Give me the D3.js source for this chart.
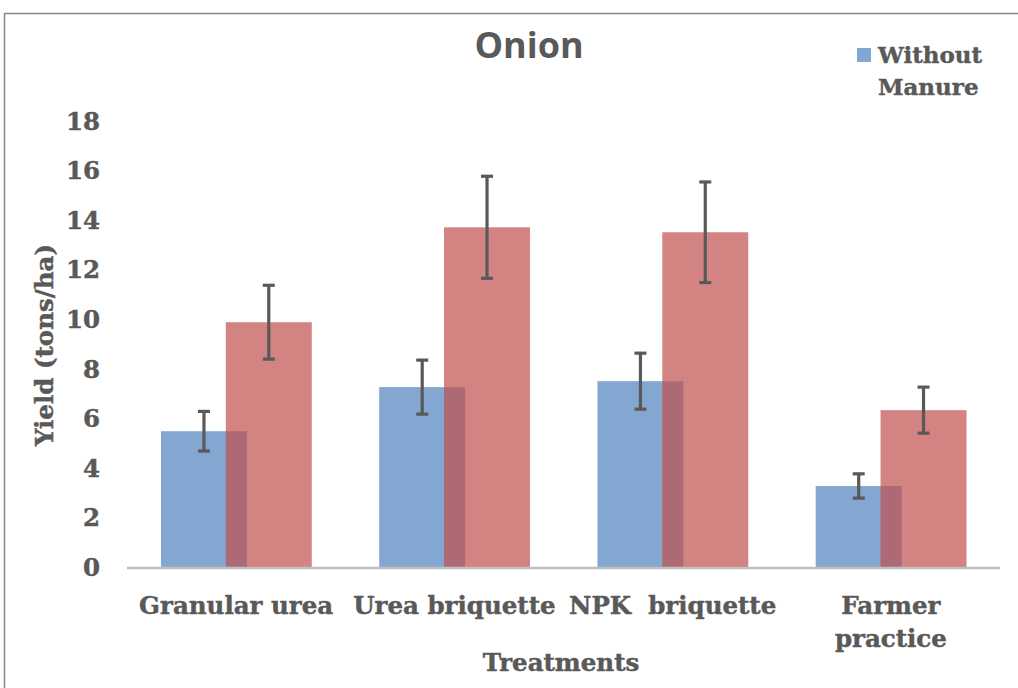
<!DOCTYPE html>
<html><head><meta charset="utf-8">
<script src="https://cdn.jsdelivr.net/npm/d3@7"></script>
<style>html,body{margin:0;padding:0;background:#fff;}svg{display:block;} text{white-space:pre;}</style>
</head><body>
<svg id="chart" width="1018" height="688"></svg>
<script>
const categories = ["Granular urea", "Urea briquette", "NPK  briquette", "Farmer practice"];
const categoryLines = [["Granular urea"], ["Urea briquette"], ["NPK  briquette"], ["Farmer", "practice"]];
const withoutManure = [5.48, 7.26, 7.50, 3.27];
const withoutManureErr = [0.80, 1.09, 1.13, 0.49];
const withManure = [9.88, 13.71, 13.51, 6.33];
const withManureErr = [1.49, 2.06, 2.03, 0.93];
const yTicks = [0, 2, 4, 6, 8, 10, 12, 14, 16, 18];
const seriesNames = ["Without Manure", "With Manure"];

const svg = d3.select("#chart");
const serif = "'DejaVu Serif', serif";
const fs = 24.5;
const textColor = "#595959";

function styleText(sel, size) {
  return sel.attr("font-family", serif).attr("font-weight", "bold").attr("font-size", size || fs)
    .attr("fill", textColor).attr("stroke", textColor).attr("stroke-width", 0.45);
}

// frame
svg.append("path").attr("d", "M4.5,688 L4.5,13.5 L1018,13.5")
  .attr("fill", "none").attr("stroke", "#868686").attr("stroke-width", 1.5);

const x = d3.scaleBand().domain(categories).range([127, 1000]).paddingInner(0).paddingOuter(0);
const y = d3.scaleLinear().domain([0, 18]).range([567, 121]);
const bw = x.bandwidth();
const barW = bw * 0.394;
const blueOff = bw * 0.1556;
const redOff = bw * 0.1556 + bw * 0.297;

const blue = "#4F81BD", red = "#C0504D";

// bars
svg.append("g").selectAll("rect").data(categories).join("rect")
  .attr("x", (d) => x(d) + blueOff).attr("width", barW)
  .attr("y", (d, i) => y(withoutManure[i])).attr("height", (d, i) => y(0) - y(withoutManure[i]))
  .attr("fill", blue).attr("fill-opacity", 0.7);
svg.append("g").selectAll("rect").data(categories).join("rect")
  .attr("x", (d) => x(d) + redOff).attr("width", barW)
  .attr("y", (d, i) => y(withManure[i])).attr("height", (d, i) => y(0) - y(withManure[i]))
  .attr("fill", red).attr("fill-opacity", 0.7);

// baseline axis
svg.append("line").attr("x1", 127).attr("x2", 1000).attr("y1", y(0) + 1).attr("y2", y(0) + 1)
  .attr("stroke", "#bfbfbf").attr("stroke-width", 2.5);

// error bars
function errBars(vals, errs, off) {
  const g = svg.append("g").attr("stroke", "#595959").attr("stroke-width", 3.2).attr("fill", "none");
  categories.forEach((c, i) => {
    const cx = x(c) + off + barW / 2;
    const t = y(vals[i] + errs[i]), b = y(vals[i] - errs[i]);
    g.append("line").attr("x1", cx).attr("x2", cx).attr("y1", t).attr("y2", b);
    g.append("line").attr("x1", cx - 6).attr("x2", cx + 6).attr("y1", t).attr("y2", t);
    g.append("line").attr("x1", cx - 6).attr("x2", cx + 6).attr("y1", b).attr("y2", b);
  });
}
errBars(withoutManure, withoutManureErr, blueOff);
errBars(withManure, withManureErr, redOff);

// y tick labels
styleText(svg.append("g").selectAll("text").data(yTicks).join("text")
  .attr("x", 100).attr("y", (d) => y(d)).attr("dy", "0.36em")
  .attr("text-anchor", "end")).text((d) => d);

// category labels
categories.forEach((c, i) => {
  const t = styleText(svg.append("text").attr("y", 614).attr("text-anchor", "middle"));
  categoryLines[i].forEach((ln, j) => {
    t.append("tspan").attr("x", x(c) + bw / 2).attr("dy", j === 0 ? 0 : 33).text(ln);
  });
});

// axis titles
styleText(svg.append("text").attr("x", 561).attr("y", 671).attr("text-anchor", "middle"))
  .text("Treatments");
styleText(svg.append("text").attr("transform", "translate(53,345) rotate(-90)").attr("text-anchor", "middle"))
  .text("Yield (tons/ha)");

// title
svg.append("text").attr("x", 529).attr("y", 58).attr("text-anchor", "middle")
  .attr("font-family", "'Open Sans', sans-serif").attr("font-weight", "bold").attr("font-size", 36)
  .attr("fill", textColor).text("Onion");

// legend (only first series visible)
svg.append("rect").attr("x", 857).attr("y", 48).attr("width", 14).attr("height", 14)
  .attr("fill", blue).attr("fill-opacity", 0.7);
const lt = styleText(svg.append("text").attr("x", 878).attr("y", 63), 23);
lt.append("tspan").attr("x", 878).text(seriesNames[0].split(" ")[0]);
lt.append("tspan").attr("x", 878).attr("dy", 32).text(seriesNames[0].split(" ")[1]);
</script>
</body></html>
